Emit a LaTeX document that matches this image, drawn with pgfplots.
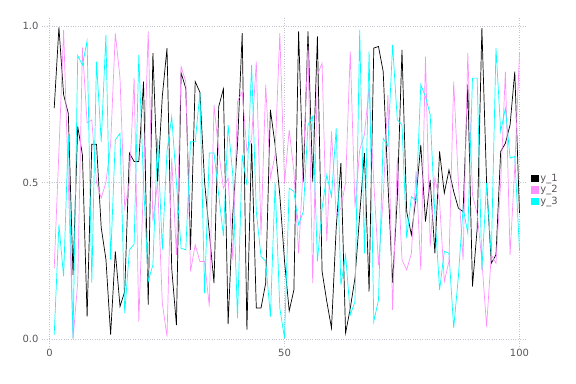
\documentclass[border=0pt]{standalone}
\usepackage{fontspec}
\setmainfont{DejaVu Sans}
\usepackage{pgfplots}
\usepackage{pgfplotstable}
\pgfplotsset{compat=1.18}
\definecolor{tickgray}{RGB}{90,85,90}
\definecolor{gridc}{RGB}{195,195,210}
\definecolor{pinkc}{RGB}{255,145,255}
\definecolor{cyanc}{RGB}{0,255,255}
\pgfplotstableread{
x y1 y2 y3
1 .737 .226 .014
2 .995 .6 .365
3 .78 .987 .2
4 .72 .5 .652
5 .205 .0 .003
6 .679 .18 .905
7 .588 .93 .875
8 .072 .69 .952
9 .622 .7 .18
10 .622 .5 .886
11 .356 .45 .63
12 .255 .5 .97
13 .014 .62 .253
14 .28 .976 .636
15 .104 .833 .657
16 .152 .418 .083
17 .594 .5 .285
18 .567 .833 .303
19 .567 .056 .907
20 .822 .5 .5
21 .11 .982 .184
22 .913 .375 .237
23 .503 .5 .641
24 .775 .115 .285
25 .929 .008 .6
26 .226 .578 .71
27 .045 .269 .5
28 .85 .87 .29
29 .8 .822 .285
30 .285 .216 .63
31 .822 .301 .63
32 .788 .248 .785
33 .50 .248 .147
34 .34 .104 .594
35 .179 .748 .594
36 .742 .6 .46
37 .799 .482 .33
38 .048 .514 .684
39 .40 .253 .524
40 .62 .758 .067
41 .977 .79 .588
42 .03 .6 .492
43 .625 .64 .875
44 .099 .886 .407
45 .099 .333 .264
46 .179 .812 .248
47 .732 .514 .072
48 .62 .588 .498
49 .46 .977 .099
50 .25 .498 .003
51 .09 .668 .482
52 .157 .535 .471
53 .982 .274 .365
54 .503 .556 .407
55 .982 .934 .684
56 .503 .179 .711
57 .966 .843 .248
58 .216 .881 .418
59 .12 .312 .524
60 .035 .663 .455
61 .354 .397 .673
62 .562 .418 .173
63 .019 .5 .269
64 .099 .918 .078
65 .195 .42 .12
66 .397 .604 .987
67 .594 .652 .274
68 .152 .8 .918
69 .929 .5 .056
70 .934 .237 .125
71 .854 .45 .641
72 .5 .78 .615
73 .18 .093 .939
74 .45 .578 .7
75 .923 .253 .684
76 .407 .221 .322
77 .333 .274 .455
78 .455 .535 .439
79 .62 .221 .812
80 .375 .902 .774
81 .508 .296 .716
82 .274 .514 .397
83 .599 .439 .157
84 .466 .184 .28
85 .54 .248 .274
86 .471 .822 .035
87 .418 .5 .2
88 .407 .253 .42
89 .812 .913 .338
90 .168 .46 .833
91 .354 .4 .833
92 .993 .25 .221
93 .5 .04 .498
94 .242 .269 .264
95 .269 .242 .929
96 .599 .5 .663
97 .625 .854 .737
98 .684 .269 .578
99 .854 .55 .583
100 .402 .913 .285
}\datatable
\begin{document}
\begin{tikzpicture}
\useasboundingbox (0,0) rectangle (576bp,384bp);
\begin{axis}[
  at={(42bp,38bp)}, anchor=south west,
  scale only axis, width=485bp, height=328bp,
  xmin=-1.6, xmax=101.6, ymin=-0.022, ymax=1.025,
  xtick={0,50,100}, ytick={0,0.5,1},
  yticklabel style={/pgf/number format/fixed, /pgf/number format/fixed zerofill, /pgf/number format/precision=1},
  axis line style={draw=none},
  major tick length=0pt,
  grid=major,
  grid style={gridc, dotted, line width=0.6pt},
  tick label style={font=\fontsize{10}{12}\selectfont, text=tickgray},
  /pgf/number format/assume math mode=true,
  legend style={at={(1.008,0.476)}, anchor=west, draw=none, fill=none,
    font=\fontsize{10}{12}\selectfont, text=tickgray, inner xsep=0pt, inner ysep=0pt,
    row sep=-1.5pt},
  legend cell align=left,
  legend image code/.code={\fill[#1] (0bp,-3.3bp) rectangle (6.6bp,3.3bp);},
  every axis plot/.append style={line width=0.7pt},
]
\addplot[black] table[x=x, y=y1] {\datatable};
\addlegendentry{y\_1}
\addplot[pinkc] table[x=x, y=y2] {\datatable};
\addlegendentry{y\_2}
\addplot[cyanc] table[x=x, y=y3] {\datatable};
\addlegendentry{y\_3}
\end{axis}
\end{tikzpicture}
\end{document}
